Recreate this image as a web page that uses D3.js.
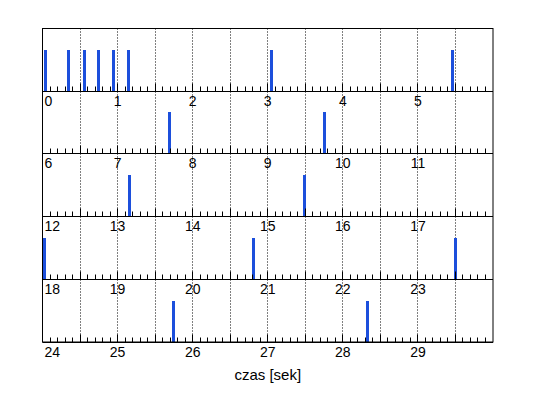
<!DOCTYPE html>
<html>
<head>
<meta charset="utf-8">
<script src="https://cdn.jsdelivr.net/npm/d3@7"></script>
<style>
  html, body { margin: 0; padding: 0; background: #fff; }
  svg { display: block; }
  text { font-family: "Liberation Sans", Arial, sans-serif; fill: #000; }
</style>
</head>
<body>
<script>
// ---- data ----
const rowStarts = [0, 6, 12, 18, 24];           // seconds at left edge of each row
const rowLength = 6;                             // seconds per row
const eventTimes = [0.05, 0.35, 0.57, 0.75, 0.95, 1.15, 3.05, 5.47,
                    7.70, 9.76,
                    13.17, 15.49,
                    18.03, 20.82, 23.51,
                    25.75, 28.33];
const eventHeight = 1;
const xLabel = "czas [sek]";

// ---- layout ----
const W = 538, H = 398;
const plotLeft = 42.5, plotRight = 493, plotTop = 28.5, plotBottom = 342;
const barColor = "#1c4fdc";

const svg = d3.select("body").append("svg").attr("width", W).attr("height", H);
svg.append("rect").attr("width", W).attr("height", H).attr("fill", "#fff");

const x = d3.scaleLinear().domain([0, rowLength]).range([plotLeft, plotRight]);
const rowScale = d3.scaleLinear().domain([0, rowStarts.length]).range([plotTop, plotBottom]);
const barW = 3;
const px = v => Math.floor(v) + 0.5;

rowStarts.forEach((start, i) => {
  const rTop = Math.round(rowScale(i) - 0.5) + 0.5;
  const rBot = Math.round(rowScale(i + 1) - 0.5) + 0.5;
  const y = d3.scaleLinear().domain([0, 1.5]).range([rBot, rTop]);
  const g = svg.append("g");

  // dotted grid every 0.5 s
  const grid = d3.range(1, rowLength * 2).map(k => k / 2);
  g.selectAll("line.grid").data(grid).enter().append("line")
    .attr("x1", d => px(x(d))).attr("x2", d => px(x(d)))
    .attr("y1", rTop).attr("y2", rBot)
    .attr("stroke", "#000").attr("stroke-width", 1).attr("stroke-dasharray", "1,2");

  // bars
  const ev = eventTimes.filter(t => t >= start && t < start + rowLength);
  g.selectAll("rect.bar").data(ev).enter().append("rect")
    .attr("x", d => Math.floor(x(d - start) - barW / 2))
    .attr("y", d => y(eventHeight))
    .attr("width", barW)
    .attr("height", d => rBot - y(eventHeight))
    .attr("fill", barColor)
    .attr("shape-rendering", "crispEdges");

  // minor / major ticks (inward from bottom axis)
  const ticks = d3.range(1, rowLength * 10).map(k => k / 10);
  g.selectAll("line.tick").data(ticks).enter().append("line")
    .attr("x1", d => px(x(d))).attr("x2", d => px(x(d)))
    .attr("y1", rBot)
    .attr("y2", d => rBot - (Math.abs(d * 2 - Math.round(d * 2)) < 1e-6 ? 8 : 5))
    .attr("stroke", "#000").attr("stroke-width", 1);

  // bottom axis line
  g.append("line").attr("x1", plotLeft).attr("x2", plotRight).attr("y1", rBot).attr("y2", rBot)
    .attr("stroke", "#000");

  // tick labels
  const labels = d3.range(0, rowLength);
  g.selectAll("text.lab").data(labels).enter().append("text")
    .attr("x", d => d === 0 ? x(0) + 2 : x(d))
    .attr("y", rBot + 14)
    .attr("text-anchor", d => d === 0 ? "start" : "middle")
    .attr("font-size", 14)
    .text(d => String(start + d));
});

// outer frame
svg.append("rect").attr("x", plotLeft).attr("y", plotTop)
  .attr("width", plotRight - plotLeft).attr("height", plotBottom - plotTop)
  .attr("fill", "none").attr("stroke", "#000");

svg.append("text").attr("x", (plotLeft + plotRight) / 2).attr("y", 380)
  .attr("text-anchor", "middle").attr("font-size", 15).text(xLabel);
</script>
</body>
</html>
